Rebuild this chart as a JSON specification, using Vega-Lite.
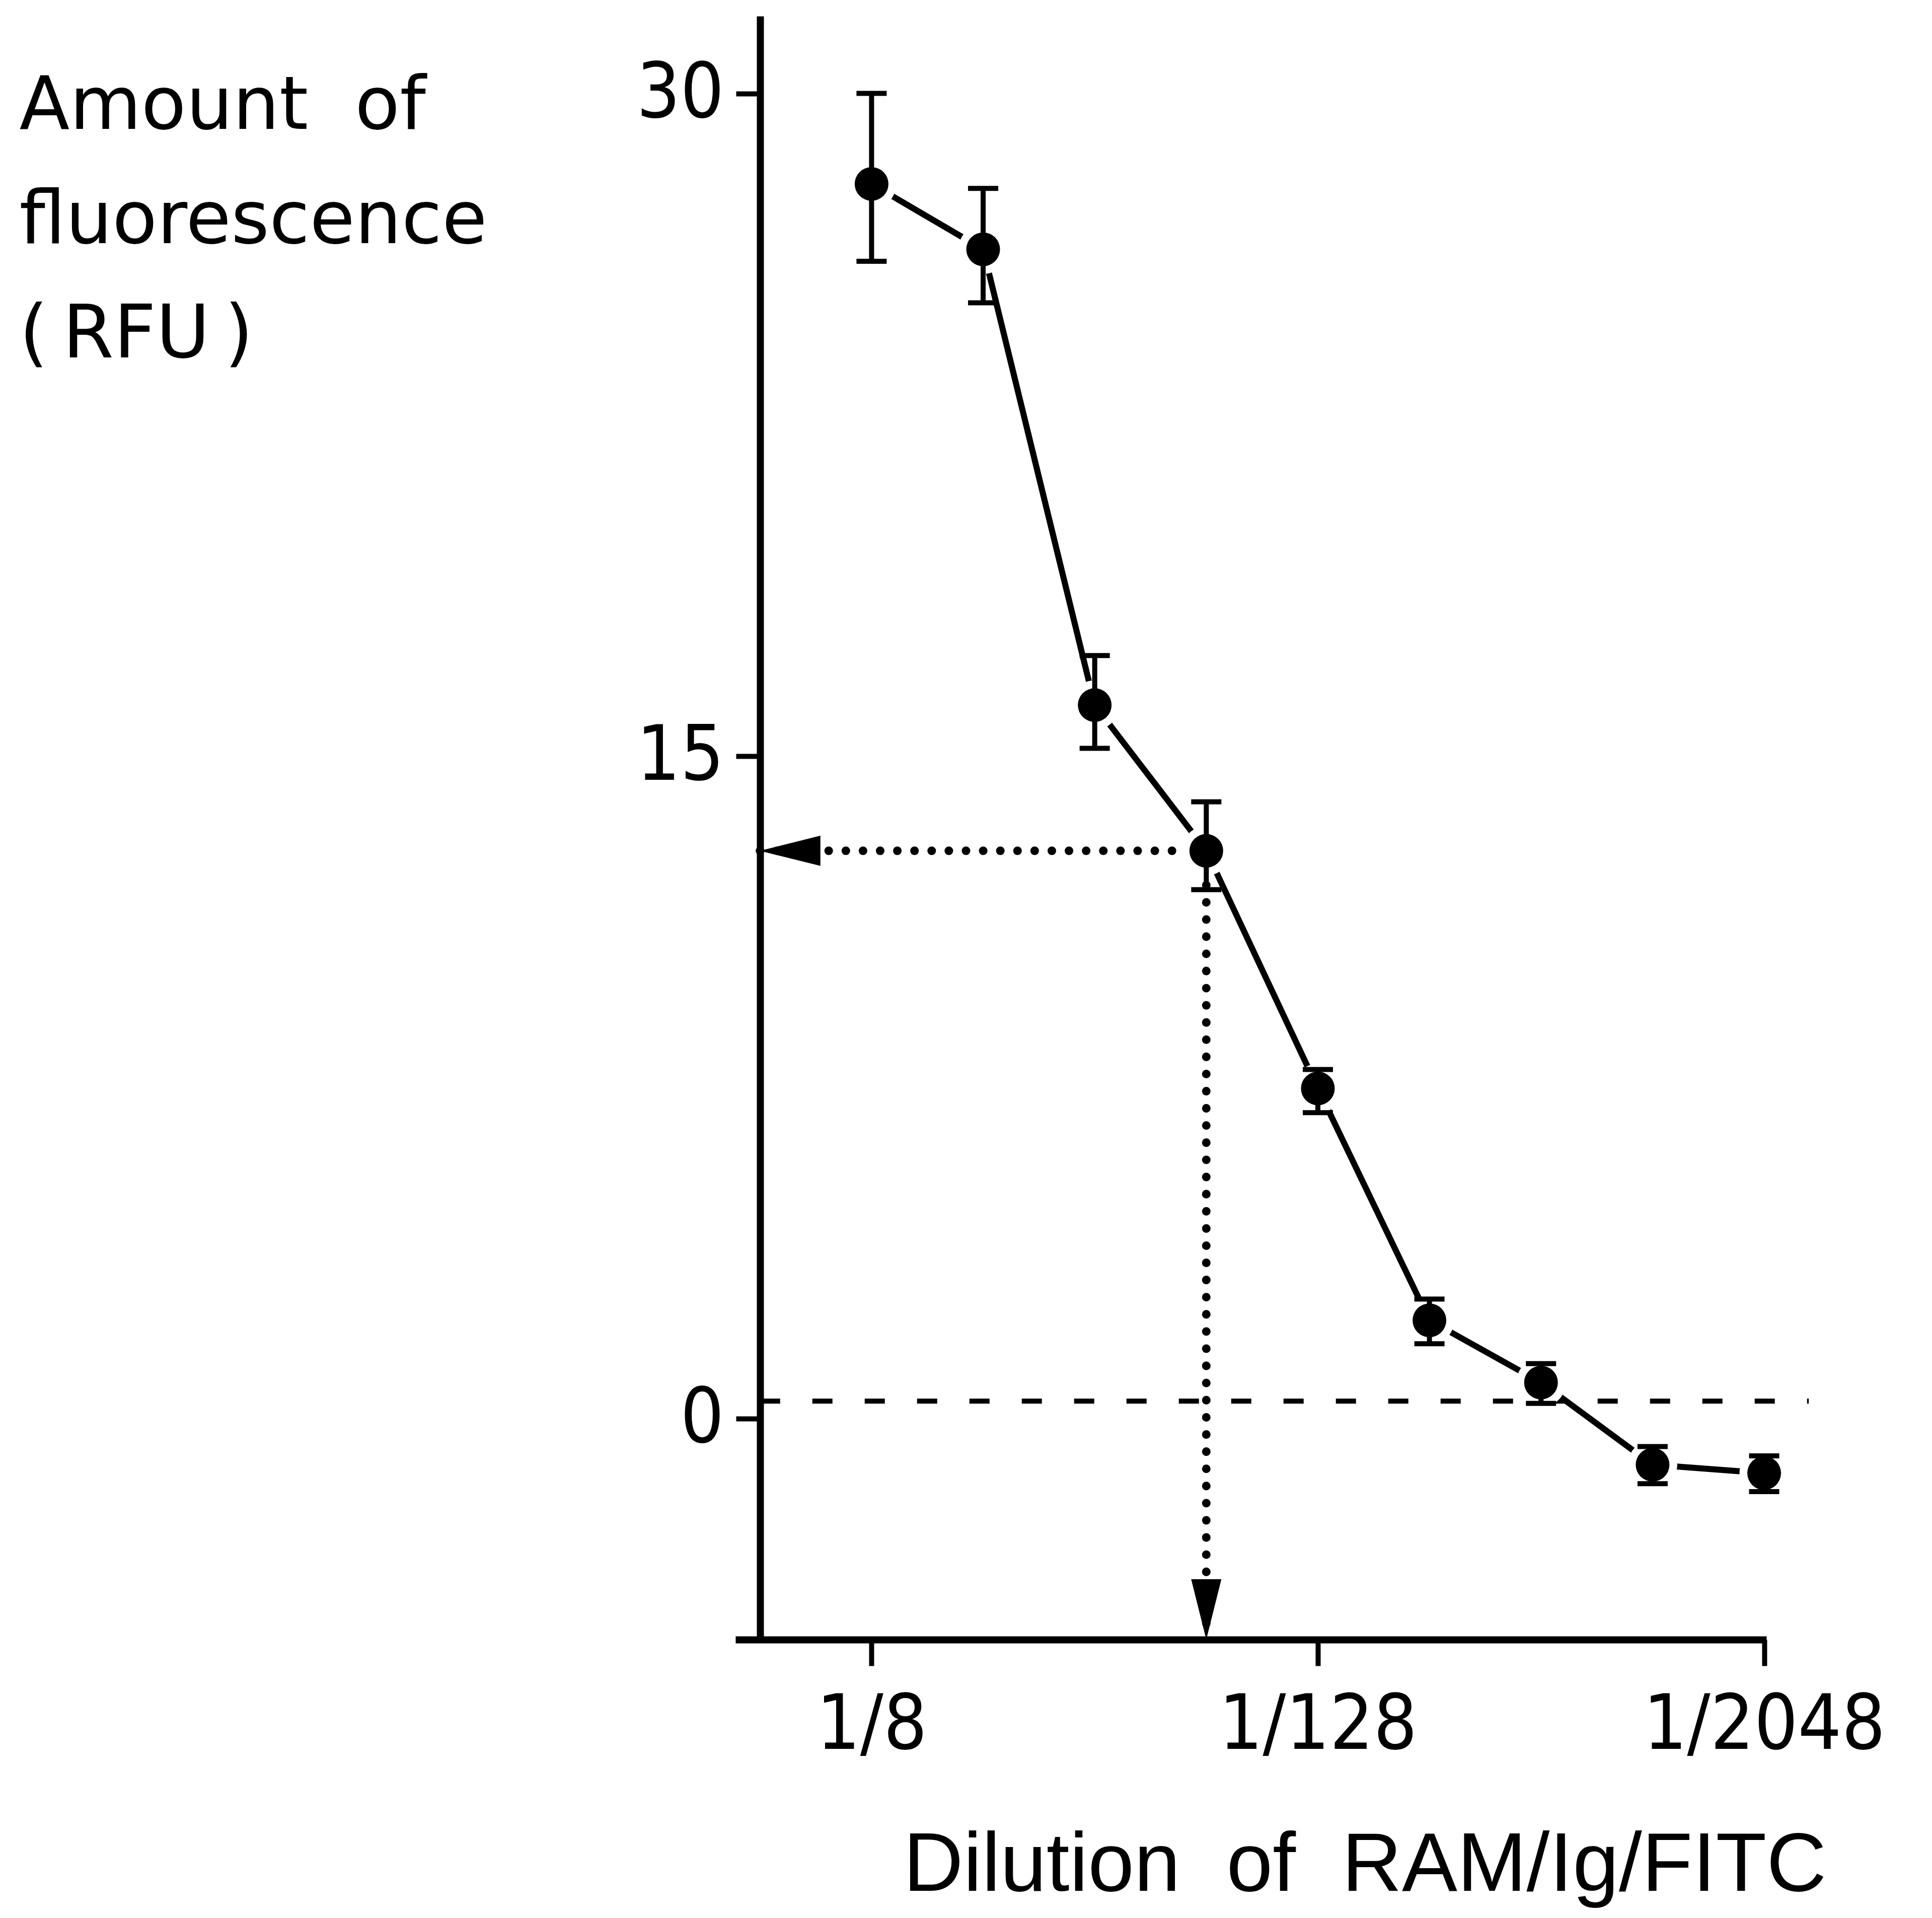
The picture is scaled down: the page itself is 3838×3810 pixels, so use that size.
{
  "$schema": "https://vega.github.io/schema/vega-lite/v6.json",
  "width": 2048,
  "height": 3225,
  "padding": {"left": 38, "top": 32, "right": 5, "bottom": 5},
  "background": "white",
  "config": {
    "view": {"stroke": null},
    "axis": {
      "grid": false,
      "domainColor": "black",
      "tickColor": "black",
      "labelColor": "black",
      "titleColor": "black",
      "domainWidth": 14,
      "tickWidth": 10,
      "labelFont": "DejaVu Sans Condensed, Liberation Sans",
      "labelFontSize": 152,
      "labelFlush": false,
      "labelOverlap": false,
      "labelBound": false,
      "labelLimit": 0,
      "titleLimit": 0
    }
  },
  "datasets": {
    "points": [
      {"dilution": "1/8", "log2dil": 3, "rfu": 27.96, "lo": 26.21, "hi": 30.01},
      {"dilution": "1/16", "log2dil": 4, "rfu": 26.48, "lo": 25.27, "hi": 27.86},
      {"dilution": "1/32", "log2dil": 5, "rfu": 16.16, "lo": 15.18, "hi": 17.28},
      {"dilution": "1/64", "log2dil": 6, "rfu": 12.86, "lo": 11.98, "hi": 13.97},
      {"dilution": "1/128", "log2dil": 7, "rfu": 7.48, "lo": 6.93, "hi": 7.91},
      {"dilution": "1/256", "log2dil": 8, "rfu": 2.23, "lo": 1.70, "hi": 2.71},
      {"dilution": "1/512", "log2dil": 9, "rfu": 0.82, "lo": 0.35, "hi": 1.25},
      {"dilution": "1/1024", "log2dil": 10, "rfu": -1.04, "lo": -1.47, "hi": -0.63},
      {"dilution": "1/2048", "log2dil": 11, "rfu": -1.23, "lo": -1.65, "hi": -0.84}
    ],
    "readout": [
      {"x": 2, "y": 12.86, "x2": 6, "y2": 12.86},
      {"x": 6, "y": 12.86, "x2": 6, "y2": -5}
    ],
    "arrows": [
      {"x": 2, "y": 12.86, "dir": "left"},
      {"x": 6, "y": -5, "dir": "down"}
    ],
    "baseline": [
      {"x": 2, "x2": 11.4, "y": 0.4}
    ]
  },
  "layer": [
    {
      "data": {"name": "baseline"},
      "mark": {"type": "rule", "color": "black", "strokeWidth": 10, "strokeDash": [40, 64]},
      "encoding": {
        "x": {
          "field": "x", "type": "quantitative",
          "title": "Dilution\u00a0\u00a0of\u00a0\u00a0RAM/Ig/FITC",
          "scale": {"domain": [1.78, 11.02], "nice": false, "zero": false},
          "axis": {
            "orient": "bottom",
            "values": [3, 7, 11],
            "labelExpr": "'1/' + pow(2, datum.value)",
            "tickSize": 52,
            "labelPadding": 44,
            "titleFont": "Liberation Sans",
            "titleFontSize": 165,
            "titleFontWeight": "normal",
            "titleAlign": "center",
            "titleBaseline": "alphabetic",
            "titleX": 1250,
            "titleY": 498
          }
        },
        "x2": {"field": "x2"},
        "y": {
          "field": "y", "type": "quantitative",
          "title": ["Amount\u00a0\u00a0of", "fluorescence", "(\u2009RFU\u2009)"],
          "scale": {"domain": [-5, 31.76], "nice": false, "zero": false},
          "axis": {
            "orient": "left",
            "values": [0, 15, 30],
            "format": "d",
            "offset": -49,
            "tickSize": 48,
            "labelPadding": 24,
            "titleFont": "DejaVu Sans",
            "titleFontSize": 146,
            "titleFontWeight": "normal",
            "titleAngle": 0,
            "titleAlign": "left",
            "titleBaseline": "alphabetic",
            "titleLineHeight": 227,
            "titleX": -1472,
            "titleY": 223
          }
        }
      }
    },
    {
      "data": {"name": "readout"},
      "mark": {"type": "rule", "color": "black", "strokeWidth": 17, "strokeCap": "round", "strokeDash": [0.1, 34]},
      "encoding": {
        "x": {"field": "x", "type": "quantitative", "title": "Dilution\u00a0\u00a0of\u00a0\u00a0RAM/Ig/FITC"},
        "x2": {"field": "x2"},
        "y": {"field": "y", "type": "quantitative", "title": ["Amount\u00a0\u00a0of", "fluorescence", "(\u2009RFU\u2009)"]},
        "y2": {"field": "y2"}
      }
    },
    {
      "data": {"name": "points"},
      "mark": {"type": "line", "color": "black", "strokeWidth": 12},
      "encoding": {
        "x": {"field": "log2dil", "type": "quantitative", "title": "Dilution\u00a0\u00a0of\u00a0\u00a0RAM/Ig/FITC"},
        "y": {"field": "rfu", "type": "quantitative", "title": ["Amount\u00a0\u00a0of", "fluorescence", "(\u2009RFU\u2009)"]}
      }
    },
    {
      "data": {"name": "points"},
      "mark": {"type": "point", "shape": "circle", "filled": true, "color": "white", "opacity": 1, "size": 9600},
      "encoding": {
        "x": {"field": "log2dil", "type": "quantitative", "title": "Dilution\u00a0\u00a0of\u00a0\u00a0RAM/Ig/FITC"},
        "y": {"field": "rfu", "type": "quantitative", "title": ["Amount\u00a0\u00a0of", "fluorescence", "(\u2009RFU\u2009)"]}
      }
    },
    {
      "data": {"name": "points"},
      "mark": {
        "type": "errorbar",
        "color": "black",
        "opacity": 1,
        "ticks": {"size": 60, "thickness": 10, "color": "black", "opacity": 1},
        "rule": {"strokeWidth": 10, "color": "black", "opacity": 1}
      },
      "encoding": {
        "x": {"field": "log2dil", "type": "quantitative", "title": "Dilution\u00a0\u00a0of\u00a0\u00a0RAM/Ig/FITC"},
        "y": {"field": "lo", "type": "quantitative", "title": ["Amount\u00a0\u00a0of", "fluorescence", "(\u2009RFU\u2009)"]},
        "y2": {"field": "hi"}
      }
    },
    {
      "data": {"name": "points"},
      "mark": {"type": "point", "shape": "circle", "filled": true, "color": "black", "opacity": 1, "size": 4489},
      "encoding": {
        "x": {"field": "log2dil", "type": "quantitative", "title": "Dilution\u00a0\u00a0of\u00a0\u00a0RAM/Ig/FITC"},
        "y": {"field": "rfu", "type": "quantitative", "title": ["Amount\u00a0\u00a0of", "fluorescence", "(\u2009RFU\u2009)"]}
      }
    },
    {
      "data": {"name": "arrows"},
      "mark": {"type": "point", "filled": true, "color": "black", "opacity": 1, "size": 14400},
      "encoding": {
        "x": {"field": "x", "type": "quantitative", "title": "Dilution\u00a0\u00a0of\u00a0\u00a0RAM/Ig/FITC"},
        "y": {"field": "y", "type": "quantitative", "title": ["Amount\u00a0\u00a0of", "fluorescence", "(\u2009RFU\u2009)"]},
        "shape": {
          "field": "dir", "type": "nominal",
          "scale": {"domain": ["left", "down"], "range": ["M0,0L2,-0.5L2,0.5Z", "M0,0L-0.5,-2L0.5,-2Z"]},
          "legend": null
        }
      }
    }
  ]
}
